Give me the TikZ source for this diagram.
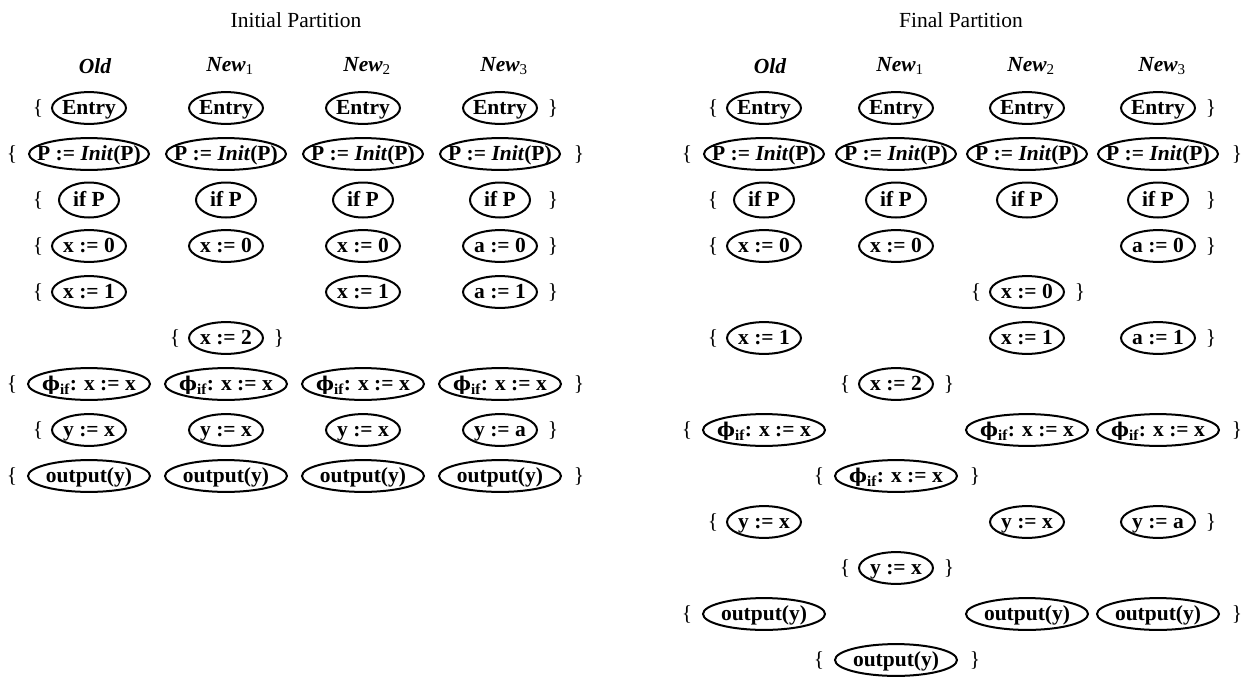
\documentclass[tikz,border=0pt]{standalone}
\usepackage{fontspec}
\setmainfont{Liberation Serif}
\newfontfamily\phifont{DejaVu Serif}
\usetikzlibrary{shapes.geometric}

% zero-width text so that the ellipse size comes from minimum width/height only
\newcommand\zw[1]{\makebox[0pt]{#1}}
\newcommand\phiif{{\phifont\fontsize{19}{20}\selectfont ϕ}\textsubscript{if}: x := x}
\newcommand\pinit{P := \textit{Init}(P)}

\tikzset{
  txt/.style={font=\fontsize{21.5}{24}\selectfont, inner sep=0pt},
  title/.style={txt},
  head/.style={txt, font=\fontsize{21.5}{24}\selectfont\bfseries\itshape},
  st/.style={ellipse, draw, line width=2pt, inner sep=0pt,
    minimum width=74pt, minimum height=30pt, text height=18pt, text depth=4.5pt,
    font=\fontsize{21.5}{24}\selectfont\bfseries},
  wst/.style={st, minimum width=120pt},
  ist/.style={st, minimum width=60pt, minimum height=35pt},
  pst/.style={st, minimum width=122pt, minimum height=30pt},
  brace/.style={txt},
  % braces of rows with narrow / wide end nodes, and of single-node rows
  lbn/.style={brace, xshift=-51pt}, rbn/.style={brace, xshift=53pt},
  lbw/.style={brace, xshift=-77pt}, rbw/.style={brace, xshift=79pt},
}

\begin{document}
\begin{tikzpicture}[x=1pt,y=-1pt]
\useasboundingbox (0,0) rectangle (1251,688);

% ---------------- initial partition ----------------
\node[title] (tL) at (296,20) {Initial Partition};
\node[head] (hL0) at (95,66) {Old};
\node[head] (hL1) at (230,66) {New\textsubscript{\upshape\mdseries 1}};
\node[head] (hL2) at (367,66) {New\textsubscript{\upshape\mdseries 2}};
\node[head] (hL3) at (504,66) {New\textsubscript{\upshape\mdseries 3}};

% row 1
\node[st] (L1a) at (89,108) {\zw{Entry}};
\node[st] (L1b) at (226,108) {\zw{Entry}};
\node[st] (L1c) at (363,108) {\zw{Entry}};
\node[st] (L1d) at (500,108) {\zw{Entry}};
\node[lbn] (L1l) at (L1a) {\{};
\node[rbn] (L1r) at (L1d) {\}};
% row 2
\node[wst] (L2a) at (89,154) {\zw{\pinit}};
\node[wst] (L2b) at (226,154) {\zw{\pinit}};
\node[wst] (L2c) at (363,154) {\zw{\pinit}};
\node[wst] (L2d) at (500,154) {\zw{\pinit}};
\node[lbw] (L2l) at (L2a) {\{};
\node[rbw] (L2r) at (L2d) {\}};
% row 3
\node[ist] (L3a) at (89,200) {\zw{if P}};
\node[ist] (L3b) at (226,200) {\zw{if P}};
\node[ist] (L3c) at (363,200) {\zw{if P}};
\node[ist] (L3d) at (500,200) {\zw{if P}};
\node[lbn] (L3l) at (L3a) {\{};
\node[rbn] (L3r) at (L3d) {\}};
% row 4
\node[st] (L4a) at (89,246) {\zw{x := 0}};
\node[st] (L4b) at (226,246) {\zw{x := 0}};
\node[st] (L4c) at (363,246) {\zw{x := 0}};
\node[st] (L4d) at (500,246) {\zw{a := 0}};
\node[lbn] (L4l) at (L4a) {\{};
\node[rbn] (L4r) at (L4d) {\}};
% row 5
\node[st] (L5a) at (89,292) {\zw{x := 1}};
\node[st] (L5c) at (363,292) {\zw{x := 1}};
\node[st] (L5d) at (500,292) {\zw{a := 1}};
\node[lbn] (L5l) at (L5a) {\{};
\node[rbn] (L5r) at (L5d) {\}};
% row 6
\node[st] (L6b) at (226,338) {\zw{x := 2}};
\node[lbn] (L6l) at (L6b) {\{};
\node[rbn] (L6r) at (L6b) {\}};
% row 7
\node[pst] (L7a) at (89,384) {\zw{\phiif}};
\node[pst] (L7b) at (226,384) {\zw{\phiif}};
\node[pst] (L7c) at (363,384) {\zw{\phiif}};
\node[pst] (L7d) at (500,384) {\zw{\phiif}};
\node[lbw] (L7l) at (L7a) {\{};
\node[rbw] (L7r) at (L7d) {\}};
% row 8
\node[st] (L8a) at (89,430) {\zw{y := x}};
\node[st] (L8b) at (226,430) {\zw{y := x}};
\node[st] (L8c) at (363,430) {\zw{y := x}};
\node[st] (L8d) at (500,430) {\zw{y := a}};
\node[lbn] (L8l) at (L8a) {\{};
\node[rbn] (L8r) at (L8d) {\}};
% row 9
\node[pst] (L9a) at (89,476) {\zw{output(y)}};
\node[pst] (L9b) at (226,476) {\zw{output(y)}};
\node[pst] (L9c) at (363,476) {\zw{output(y)}};
\node[pst] (L9d) at (500,476) {\zw{output(y)}};
\node[lbw] (L9l) at (L9a) {\{};
\node[rbw] (L9r) at (L9d) {\}};

% ---------------- final partition ----------------
\node[title] (tR) at (961,20) {Final Partition};
\node[head] (hR0) at (770,66) {Old};
\node[head] (hR1) at (900,66) {New\textsubscript{\upshape\mdseries 1}};
\node[head] (hR2) at (1031,66) {New\textsubscript{\upshape\mdseries 2}};
\node[head] (hR3) at (1162,66) {New\textsubscript{\upshape\mdseries 3}};

% row 1
\node[st] (R1a) at (764,108) {\zw{Entry}};
\node[st] (R1b) at (896,108) {\zw{Entry}};
\node[st] (R1c) at (1027,108) {\zw{Entry}};
\node[st] (R1d) at (1158,108) {\zw{Entry}};
\node[lbn] (R1l) at (R1a) {\{};
\node[rbn] (R1r) at (R1d) {\}};
% row 2
\node[wst] (R2a) at (764,154) {\zw{\pinit}};
\node[wst] (R2b) at (896,154) {\zw{\pinit}};
\node[wst] (R2c) at (1027,154) {\zw{\pinit}};
\node[wst] (R2d) at (1158,154) {\zw{\pinit}};
\node[lbw] (R2l) at (R2a) {\{};
\node[rbw] (R2r) at (R2d) {\}};
% row 3
\node[ist] (R3a) at (764,200) {\zw{if P}};
\node[ist] (R3b) at (896,200) {\zw{if P}};
\node[ist] (R3c) at (1027,200) {\zw{if P}};
\node[ist] (R3d) at (1158,200) {\zw{if P}};
\node[lbn] (R3l) at (R3a) {\{};
\node[rbn] (R3r) at (R3d) {\}};
% row 4
\node[st] (R4a) at (764,246) {\zw{x := 0}};
\node[st] (R4b) at (896,246) {\zw{x := 0}};
\node[st] (R4d) at (1158,246) {\zw{a := 0}};
\node[lbn] (R4l) at (R4a) {\{};
\node[rbn] (R4r) at (R4d) {\}};
% row 5
\node[st] (R5c) at (1027,292) {\zw{x := 0}};
\node[lbn] (R5l) at (R5c) {\{};
\node[rbn] (R5r) at (R5c) {\}};
% row 6
\node[st] (R6a) at (764,338) {\zw{x := 1}};
\node[st] (R6c) at (1027,338) {\zw{x := 1}};
\node[st] (R6d) at (1158,338) {\zw{a := 1}};
\node[lbn] (R6l) at (R6a) {\{};
\node[rbn] (R6r) at (R6d) {\}};
% row 7
\node[st] (R7b) at (896,384) {\zw{x := 2}};
\node[lbn] (R7l) at (R7b) {\{};
\node[rbn] (R7r) at (R7b) {\}};
% row 8
\node[pst] (R8a) at (764,430) {\zw{\phiif}};
\node[pst] (R8c) at (1027,430) {\zw{\phiif}};
\node[pst] (R8d) at (1158,430) {\zw{\phiif}};
\node[lbw] (R8l) at (R8a) {\{};
\node[rbw] (R8r) at (R8d) {\}};
% row 9
\node[pst] (R9b) at (896,476) {\zw{\phiif}};
\node[lbw] (R9l) at (R9b) {\{};
\node[rbw] (R9r) at (R9b) {\}};
% row 10
\node[st] (R10a) at (764,522) {\zw{y := x}};
\node[st] (R10c) at (1027,522) {\zw{y := x}};
\node[st] (R10d) at (1158,522) {\zw{y := a}};
\node[lbn] (R10l) at (R10a) {\{};
\node[rbn] (R10r) at (R10d) {\}};
% row 11
\node[st] (R11b) at (896,568) {\zw{y := x}};
\node[lbn] (R11l) at (R11b) {\{};
\node[rbn] (R11r) at (R11b) {\}};
% row 12
\node[pst] (R12a) at (764,614) {\zw{output(y)}};
\node[pst] (R12c) at (1027,614) {\zw{output(y)}};
\node[pst] (R12d) at (1158,614) {\zw{output(y)}};
\node[lbw] (R12l) at (R12a) {\{};
\node[rbw] (R12r) at (R12d) {\}};
% row 13
\node[pst] (R13b) at (896,660) {\zw{output(y)}};
\node[lbw] (R13l) at (R13b) {\{};
\node[rbw] (R13r) at (R13b) {\}};
\end{tikzpicture}
\end{document}
